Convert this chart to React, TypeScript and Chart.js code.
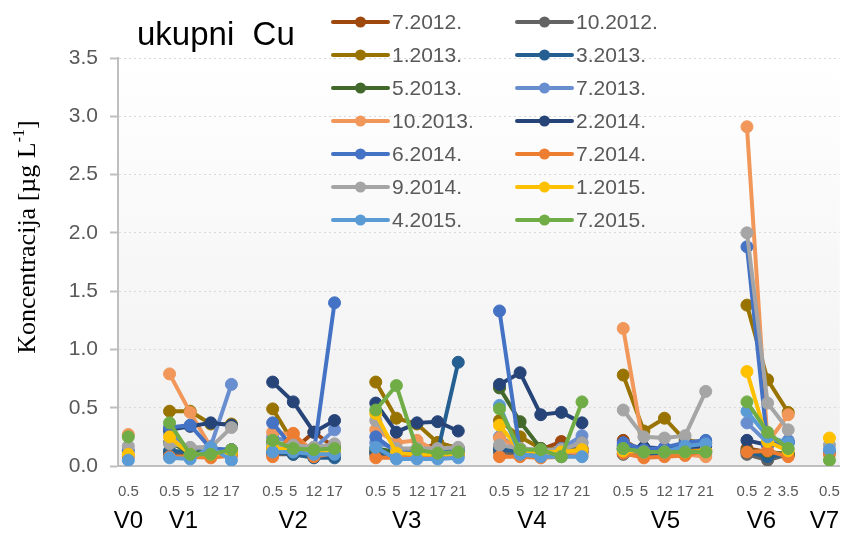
import React, { useEffect, useRef } from "react";
import { Chart, registerables } from "chart.js";

Chart.register(...registerables);

// ---------- data ----------
const _ = null;

const xLabels = [
  "0.5", "",
  "0.5", "5", "12", "17", "",
  "0.5", "5", "12", "17", "",
  "0.5", "5", "12", "17", "21", "",
  "0.5", "5", "12", "17", "21", "",
  "0.5", "5", "12", "17", "21", "",
  "0.5", "2", "3.5", "",
  "0.5",
];

const groupLabels = ["V0", "V1", "V2", "V3", "V4", "V5", "V6", "V7"];
// category slot (fractional index) under which each group label sits
const groupLabelSlots = [0, 2.67, 8, 13.5, 19.57, 26.05, 30.7, 33.76];

const seriesNames = [
  "7.2012.", "10.2012.", "1.2013.", "3.2013.", "5.2013.", "7.2013.", "10.2013.",
  "2.2014.", "6.2014.", "7.2014.", "9.2014.", "1.2015.", "4.2015.", "7.2015.",
];

const seriesColors = [
  "#9E480E", "#636363", "#997300", "#255E91", "#43682B", "#698ED0", "#F1975A",
  "#264478", "#4472C4", "#ED7D31", "#A5A5A5", "#FFC000", "#5B9BD5", "#70AD47",
];

const s7_2012 = [_, _, 0.12, 0.10, 0.10, 0.14, _, 0.15, 0.14, 0.29, 0.16, _, 0.12, 0.10, 0.12, 0.20, 0.15, _, 0.15, 0.12, 0.14, 0.21, 0.15, _, 0.22, 0.12, 0.12, 0.12, 0.14, _, 0.15, 0.12, 0.10, _, _];
const s10_2012 = [_, _, 0.10, 0.09, 0.09, 0.10, _, 0.10, 0.10, 0.08, 0.09, _, 0.10, 0.09, 0.08, 0.09, 0.10, _, 0.12, 0.10, 0.10, 0.10, 0.12, _, 0.10, 0.09, 0.09, 0.10, 0.10, _, 0.10, 0.05, 0.10, _, _];
const s1_2013 = [_, _, 0.47, 0.47, 0.36, 0.36, _, 0.49, 0.20, 0.16, 0.17, _, 0.72, 0.41, 0.36, 0.20, 0.15, _, 0.39, 0.25, 0.15, 0.14, 0.15, _, 0.78, 0.30, 0.41, 0.22, 0.20, _, 1.38, 0.74, 0.46, _, _];
const s3_2013 = [_, _, 0.13, 0.12, 0.12, 0.12, _, 0.12, 0.10, 0.07, 0.07, _, 0.12, 0.10, 0.10, 0.12, 0.89, _, 0.15, 0.12, 0.10, 0.10, 0.12, _, 0.14, 0.12, 0.10, 0.10, 0.12, _, 0.12, 0.08, 0.10, _, _];
const s5_2013 = [_, _, 0.20, 0.12, 0.12, 0.13, _, 0.20, 0.12, 0.12, 0.14, _, 0.15, 0.12, 0.12, 0.12, 0.12, _, 0.67, 0.38, 0.15, 0.12, 0.13, _, 0.15, 0.12, 0.12, 0.12, 0.12, _, 0.13, 0.12, 0.10, _, _];
const s7_2013 = [_, _, 0.28, 0.14, 0.17, 0.70, _, 0.25, 0.20, 0.15, 0.31, _, 0.20, 0.15, 0.12, 0.12, 0.14, _, 0.25, 0.15, 0.12, 0.15, 0.26, _, 0.18, 0.15, 0.15, 0.18, 0.20, _, 0.37, 0.20, 0.22, _, _];
const s10_2013 = [0.27, _, 0.79, 0.46, 0.16, 0.12, _, 0.29, 0.27, 0.12, 0.13, _, 0.31, 0.20, 0.22, 0.12, 0.12, _, 0.24, 0.15, 0.10, 0.12, 0.12, _, 1.18, 0.15, 0.12, 0.10, 0.08, _, 2.91, 0.20, 0.44, _, _];
const s2_2014 = [_, _, 0.31, 0.34, 0.37, 0.35, _, 0.72, 0.55, 0.29, 0.39, _, 0.54, 0.29, 0.37, 0.38, 0.30, _, 0.70, 0.80, 0.44, 0.46, 0.37, _, 0.17, 0.16, 0.15, 0.16, 0.17, _, 0.22, 0.18, 0.20, _, _];
const s6_2014 = [0.13, _, 0.33, 0.35, 0.15, 0.14, _, 0.37, 0.15, 0.12, 1.40, _, 0.25, 0.12, 0.12, 0.12, 0.14, _, 1.33, 0.12, 0.12, 0.13, 0.20, _, 0.20, 0.14, 0.16, 0.20, 0.22, _, 1.88, 0.18, 0.20, _, 0.12];
const s7_2014 = [0.08, _, 0.08, 0.08, 0.07, 0.09, _, 0.08, 0.28, 0.08, 0.11, _, 0.07, 0.07, 0.08, 0.08, 0.09, _, 0.08, 0.08, 0.07, 0.08, 0.09, _, 0.11, 0.07, 0.08, 0.09, 0.13, _, 0.12, 0.13, 0.08, _, 0.10];
const s9_2014 = [0.17, _, 0.19, 0.16, 0.16, 0.33, _, 0.18, 0.18, 0.16, 0.19, _, 0.39, 0.15, 0.15, 0.15, 0.16, _, 0.18, 0.15, 0.14, 0.14, 0.20, _, 0.48, 0.25, 0.24, 0.26, 0.64, _, 2.00, 0.54, 0.31, _, 0.18];
const s1_2015 = [0.10, _, 0.25, 0.10, 0.10, 0.12, _, 0.15, 0.14, 0.12, 0.12, _, 0.45, 0.11, 0.10, 0.10, 0.10, _, 0.35, 0.13, 0.12, 0.12, 0.14, _, 0.13, 0.12, 0.12, 0.12, 0.13, _, 0.81, 0.21, 0.13, _, 0.24];
const s4_2015 = [0.05, _, 0.07, 0.06, 0.16, 0.05, _, 0.12, 0.12, 0.10, 0.10, _, 0.16, 0.06, 0.06, 0.06, 0.07, _, 0.52, 0.10, 0.08, 0.08, 0.08, _, 0.15, 0.12, 0.12, 0.17, 0.19, _, 0.47, 0.25, 0.20, _, 0.14];
const s7_2015 = [0.25, _, 0.37, 0.10, 0.10, 0.14, _, 0.22, 0.15, 0.14, 0.15, _, 0.48, 0.69, 0.14, 0.11, 0.12, _, 0.49, 0.14, 0.14, 0.08, 0.55, _, 0.15, 0.12, 0.12, 0.12, 0.12, _, 0.55, 0.29, 0.15, _, 0.05];

const seriesValues = [
  s7_2012, s10_2012, s1_2013, s3_2013, s5_2013, s7_2013, s10_2013,
  s2_2014, s6_2014, s7_2014, s9_2014, s1_2015, s4_2015, s7_2015,
];

const yTicks = [0, 0.5, 1.0, 1.5, 2.0, 2.5, 3.0, 3.5];

const chartTitle = "ukupni  Cu";
const yTitleMain = "Koncentracija [µg L";
const yTitleSup = "-1";
const yTitleEnd = "]";

// ---------- plugins ----------
const backgroundPlugin = {
  id: "bgGradient",
  beforeDraw(chart: any) {
    const { ctx, chartArea, width, height } = chart;
    ctx.save();
    ctx.fillStyle = "#ffffff";
    ctx.fillRect(0, 0, width, height);
    const g = ctx.createLinearGradient(0, chartArea.top, 0, chartArea.bottom);
    g.addColorStop(0, "#ffffff");
    g.addColorStop(1, "#f0f0f0");
    ctx.fillStyle = g;
    ctx.fillRect(chartArea.left, chartArea.top, chartArea.right - chartArea.left, chartArea.bottom - chartArea.top);
    ctx.restore();
  },
};

const overlayPlugin = {
  id: "overlay",
  afterDraw(chart: any) {
    const { ctx } = chart;
    const xScale = chart.scales.x;
    ctx.save();

    // title
    ctx.fillStyle = "#000000";
    ctx.font = "33px 'Liberation Sans'";
    ctx.textAlign = "left";
    ctx.textBaseline = "alphabetic";
    ctx.fillText(chartTitle, 137, 45);

    // y axis title (serif, with superscript)
    ctx.save();
    ctx.translate(26, 237);
    ctx.rotate(-Math.PI / 2);
    const mainFont = "26px 'Liberation Serif'";
    const supFont = "16px 'Liberation Serif'";
    ctx.font = mainFont;
    const w1 = ctx.measureText(yTitleMain).width;
    const w3 = ctx.measureText(yTitleEnd).width;
    ctx.font = supFont;
    const w2 = ctx.measureText(yTitleSup).width;
    const total = w1 + w2 + w3;
    let x = -total / 2;
    ctx.fillStyle = "#000000";
    ctx.textBaseline = "alphabetic";
    ctx.font = mainFont;
    ctx.fillText(yTitleMain, x, 9);
    x += w1;
    ctx.font = supFont;
    ctx.fillText(yTitleSup, x, -2);
    x += w2;
    ctx.font = mainFont;
    ctx.fillText(yTitleEnd, x, 9);
    ctx.restore();

    // group labels
    ctx.fillStyle = "#000000";
    ctx.font = "24px 'Liberation Sans'";
    ctx.textAlign = "center";
    ctx.textBaseline = "middle";
    groupLabels.forEach((lab, i) => {
      ctx.fillText(lab, xScale.getPixelForValue(groupLabelSlots[i]), 521);
    });

    // legend (two columns)
    const colX = [333, 517];
    seriesNames.forEach((name, i) => {
      const col = i % 2;
      const row = Math.floor(i / 2);
      const x0 = colX[col];
      const y = 22 + row * 33;
      const c = seriesColors[i];
      ctx.strokeStyle = c;
      ctx.lineWidth = 4;
      ctx.lineCap = "round";
      ctx.beginPath();
      ctx.moveTo(x0, y);
      ctx.lineTo(x0 + 55, y);
      ctx.stroke();
      ctx.fillStyle = c;
      ctx.beginPath();
      ctx.arc(x0 + 27.5, y, 5.5, 0, Math.PI * 2);
      ctx.fill();
      ctx.fillStyle = "#595959";
      ctx.font = "21px 'Liberation Sans'";
      ctx.textAlign = "left";
      ctx.textBaseline = "middle";
      ctx.fillText(name, x0 + 59, y + 1);
    });

    ctx.restore();
  },
};

export default function App() {
  const ref = useRef<HTMLCanvasElement>(null);

  useEffect(() => {
    document.body.style.margin = "0";
    const canvas = ref.current;
    if (!canvas) return;
    const n = seriesValues.length;
    const chart = new Chart(canvas, {
      type: "line",
      data: {
        labels: xLabels,
        datasets: seriesValues.map((vals, i) => ({
          label: seriesNames[i],
          data: vals,
          borderColor: seriesColors[i],
          backgroundColor: seriesColors[i],
          pointBackgroundColor: seriesColors[i],
          pointBorderColor: seriesColors[i],
          borderWidth: 4,
          pointRadius: 6,
          pointBorderWidth: 1,
          tension: 0,
          spanGaps: false,
          fill: false,
          order: n - i,
        })),
      },
      options: {
        responsive: false,
        animation: false,
        devicePixelRatio: 1,
        layout: { padding: { top: 58, right: 9, left: 0, bottom: 0 } },
        plugins: {
          legend: { display: false },
          title: { display: false },
          tooltip: { enabled: false },
        },
        scales: {
          x: {
            type: "category",
            offset: true,
            grid: { display: false, drawTicks: false },
            border: { display: true, color: "#bfbfbf", width: 2 },
            ticks: {
              autoSkip: false,
              maxRotation: 0,
              minRotation: 0,
              color: "#595959",
              font: { family: "'Liberation Sans'", size: 15 },
              padding: 17,
            },
            afterFit: (s: any) => {
              s.height = 75;
            },
          },
          y: {
            type: "linear",
            min: 0,
            max: 3.5,
            afterBuildTicks: (s: any) => {
              s.ticks = yTicks.map((v) => ({ value: v }));
            },
            ticks: {
              color: "#595959",
              font: { family: "'Liberation Sans'", size: 21 },
              padding: 12,
              callback: (v: any) => Number(v).toFixed(1),
            },
            grid: {
              color: "#d9d9d9",
              lineWidth: 1,
              drawTicks: true,
              tickLength: 8,
              tickColor: "#bfbfbf",
              tickWidth: 2,
            },
            border: { display: true, color: "#bfbfbf", width: 2, dash: [2, 3] },
            afterFit: (s: any) => {
              s.width = 118;
            },
          },
        },
      },
      plugins: [backgroundPlugin, overlayPlugin],
    } as any);
    return () => chart.destroy();
  }, []);

  return (
    <div style={{ position: "absolute", left: 0, top: 0, width: 857, height: 541 }}>
      <canvas ref={ref} width={857} height={541} style={{ display: "block", width: 857, height: 541 }} />
    </div>
  );
}
